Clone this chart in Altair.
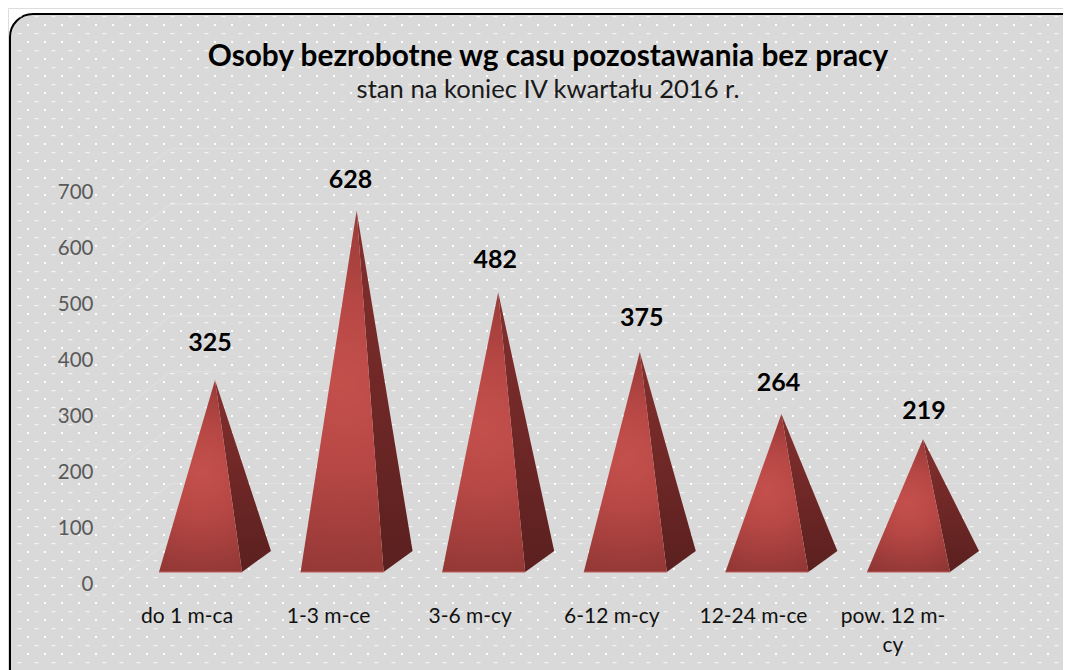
import altair as alt
import pandas as pd

# --- chart values ---
CATEGORIES = ["do 1 m-ca", "1-3 m-ce", "3-6 m-cy", "6-12 m-cy", "12-24 m-ce", "pow. 12 m-\ncy"]
VALUES = [325, 628, 482, 375, 264, 219]
Y_TICKS = [0, 100, 200, 300, 400, 500, 600, 700]
TITLE = "Osoby bezrobotne wg casu pozostawania bez pracy"
SUBTITLE = "stan na koniec IV kwartału 2016 r."

# --- layout ---
W, H = 1055, 662
PX_PER_CAT = 141.6
CAT0_PX = 200.5
PX_PER_UNIT = 0.5586
ZERO_PX = 584.0
X_DOMAIN = [(8 - CAT0_PX) / PX_PER_CAT, (8 + W - CAT0_PX) / PX_PER_CAT]
Y_DOMAIN = [(ZERO_PX - 8 - H) / PX_PER_UNIT, (ZERO_PX - 8) / PX_PER_UNIT]
xs = alt.Scale(domain=X_DOMAIN, nice=False, zero=False)
ys = alt.Scale(domain=Y_DOMAIN, nice=False, zero=False)

def ux(px):
    return (px - CAT0_PX) / PX_PER_CAT

def uy(px):
    return (ZERO_PX - px) / PX_PER_UNIT

HALF = 41.5 / PX_PER_CAT      # half of base width
APEX_DX = 14.5 / PX_PER_CAT   # perspective shift of apex
CORNER_DX = HALF + 29 / PX_PER_CAT
BASE_FRONT = uy(572)
BASE_BACK = uy(551)
APEX_LIFT = uy(561.5)
LABEL_NUDGE_X = [-5, -6, -3, 2, -3, 1]
LABEL_NUDGE_Y = [37, 31, 32, 34, 31, 28]

front, side, labels, cats, base = [], [], [], [], []
for i, (c, v) in enumerate(zip(CATEGORIES, VALUES)):
    xa, ya = i + APEX_DX, v + APEX_LIFT
    xl, xr, xc = i - HALF, i + HALF, i + CORNER_DX
    front += [
        dict(p=i, x=xl, y=BASE_FRONT, y2=BASE_FRONT),
        dict(p=i, x=xa, y=ya, y2=BASE_FRONT),
        dict(p=i, x=xr, y=BASE_FRONT, y2=BASE_FRONT),
    ]
    t = (xr - xa) / (xc - xa)
    side += [
        dict(p=i, x=xa, y=ya, y2=ya),
        dict(p=i, x=xr, y=ya + (BASE_BACK - ya) * t, y2=BASE_FRONT),
        dict(p=i, x=xc, y=BASE_BACK, y2=BASE_BACK),
    ]
    base.append(dict(x=xl, x2=xr, y=BASE_FRONT))
    labels.append(dict(x=xa + LABEL_NUDGE_X[i] / PX_PER_CAT,
                       y=ya + LABEL_NUDGE_Y[i] / PX_PER_UNIT, t=str(v)))
    off = -15.5 if "\n" in c else -13.5
    cats.append(dict(x=i + off / PX_PER_CAT, y=uy(605.5), t=c))

# dotted panel texture
bright, dim = [], []
for r in range(40):
    for k in range(64):
        px, py = 11 + 17 * k, 25 + 17 * r
        if 12 < px < 1063 and py < 668:
            bright.append(dict(x=ux(px), y=uy(py)))
        px2, py2 = 19.5 + 17 * k, 16.7 + 17 * r
        if px2 < 1063 and py2 < 668:
            dim.append(dict(x=ux(px2), y=uy(py2)))

# faint 3-D wall lines
wall = []
WX0, WX1, WX2 = ux(113), ux(171), ux(1022)
for v in Y_TICKS:
    lift = 80
    wall += [
        dict(g=v, x=WX0, y=v),
        dict(g=v, x=WX1, y=v + lift),
        dict(g=v, x=WX2, y=v + lift),
    ]

X = lambda: alt.X("x:Q", scale=xs, axis=None)
Y = lambda **k: alt.Y("y:Q", scale=ys, stack=None, **k)

panel = alt.Chart(alt.Data(values=[{}])).mark_rect(
    fill="#d9d9d9", stroke="#000000", strokeWidth=2, cornerRadius=23
).encode(x=alt.value(2), x2=alt.value(1076), y=alt.value(6), y2=alt.value(690))

wall_l = alt.Chart(pd.DataFrame(wall)).mark_line(color="#dfdfdf", strokeWidth=1.2).encode(
    x=X(), y=Y(), detail="g:N")

dots_b = alt.Chart(pd.DataFrame(bright)).mark_square(color="#ffffff", size=4, opacity=1).encode(
    x=X(), y=Y())
dots_d = alt.Chart(pd.DataFrame(dim)).mark_tick(
    color="#ffffff", orient="horizontal", size=4, thickness=1, opacity=0.85
).encode(x=X(), y=Y())

front_grad = alt.RadialGradient(
    "radial",
    stops=[alt.GradientStop(color="#c4504c", offset=0),
           alt.GradientStop(color="#b84845", offset=0.35),
           alt.GradientStop(color="#8a3432", offset=1)],
    x1=0.5, y1=0.48, r1=0, x2=0.5, y2=0.48, r2=0.62,
)
side_grad = alt.LinearGradient(
    "linear",
    stops=[alt.GradientStop(color="#84302e", offset=0),
           alt.GradientStop(color="#5a201f", offset=1)],
    x1=0, y1=0, x2=0, y2=1,
)

yaxis = alt.Axis(
    values=Y_TICKS, title=None, domain=False, ticks=False, grid=False,
    labelColor="#595959", labelFont="Lato", labelFontSize=20.5, labelPadding=0,
    offset=-85, zindex=1, labelOverlap=False,
)

front_l = alt.Chart(pd.DataFrame(front)).mark_area(
    color=front_grad, orient="vertical", interpolate="linear"
).encode(x=X(), y=Y(axis=yaxis, title=None), y2="y2:Q", detail="p:N")

side_l = alt.Chart(pd.DataFrame(side)).mark_area(
    color=side_grad, orient="vertical", interpolate="linear"
).encode(x=X(), y=Y(), y2="y2:Q", detail="p:N")

base_l = alt.Chart(pd.DataFrame(base)).mark_rule(color="#c0605c", strokeWidth=1).encode(
    x=X(), x2="x2:Q", y=Y())

value_l = alt.Chart(pd.DataFrame(labels)).mark_text(
    font="Lato", fontWeight="bold", fontSize=25, color="#000000", baseline="middle"
).encode(x=X(), y=Y(), text="t:N")

cat_l = alt.Chart(pd.DataFrame(cats)).mark_text(
    font="Lato", fontSize=21, color="#111111", baseline="top", lineBreak="\n", lineHeight=29
).encode(x=X(), y=Y(), text="t:N")

chart = alt.layer(panel, wall_l, dots_b, dots_d, side_l, front_l, base_l, value_l, cat_l).properties(
    width=W, height=H,
    padding=0,
    autosize=alt.AutoSizeParams(type="none"),
    title=alt.TitleParams(
        text=TITLE, subtitle=SUBTITLE, anchor="middle", frame="group",
        font="Lato", fontSize=29.8, fontWeight="bold", color="#000000",
        subtitleFont="Lato", subtitleFontSize=25.6, subtitleColor="#1a1a1a",
        subtitlePadding=7, dx=12.5, offset=-96, limit=1000,
    ),
).configure_view(stroke="transparent").configure(background="#ffffff")

chart.save("out.html", embed_options={"renderer": "svg", "actions": False})
